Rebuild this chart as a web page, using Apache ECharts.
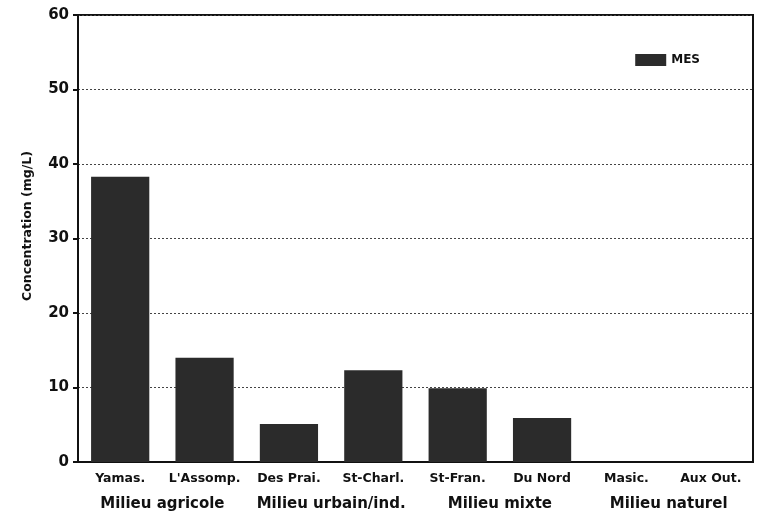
<!DOCTYPE html>
<html>
<head>
<meta charset="utf-8">
<script src="https://cdn.jsdelivr.net/npm/echarts@6/dist/echarts.min.js"></script>
<style>
  html, body { margin: 0; padding: 0; background: #fff; }
  #chart { width: 759px; height: 519px; }
</style>
</head>
<body>
<div id="chart"></div>
<script>
// stations and their MES concentration (mg/L)
const stations = ['Yamas.', "L'Assomp.", 'Des Prai.', 'St-Charl.', 'St-Fran.', 'Du Nord', 'Masic.', 'Aux Out.']
const mesValues = [38.3, 14.0, 5.1, 12.3, 9.9, 5.9, 0, 0]
const milieux = ['Milieu agricole', 'Milieu urbain/ind.', 'Milieu mixte', 'Milieu naturel']
const yTicks = [0, 10, 20, 30, 40, 50, 60]

const font = 'DejaVu Sans'
const chart = echarts.init(document.getElementById('chart'))

const option = {
  animation: false,
  textStyle: { fontFamily: font },
  grid: {
    left: 78, right: 6, top: 15, bottom: 57,
    show: true, borderColor: '#111', borderWidth: 2
  },
  legend: {
    data: [{ name: 'MES', icon: 'rect' }],
    right: 54, top: 49,
    itemWidth: 31, itemHeight: 12,
    itemGap: 4,
    textStyle: { fontFamily: font, fontWeight: 'bold', fontSize: 12, color: '#111', padding: [0, 0, 0, 0] }
  },
  xAxis: [
    {
      type: 'category',
      data: stations,
      position: 'bottom',
      axisLine: { lineStyle: { color: '#111', width: 2 } },
      axisTick: { show: false },
      axisLabel: { interval: 0, margin: 10, color: '#111', fontWeight: 'bold', fontSize: 12.5, fontFamily: font }
    },
    {
      type: 'category',
      data: milieux,
      position: 'bottom',
      offset: 27,
      axisLine: { show: false },
      axisTick: { show: false },
      axisLabel: { interval: 0, margin: 8, color: '#111', fontWeight: 'bold', fontSize: 15, fontFamily: font }
    }
  ],
  yAxis: {
    type: 'value',
    min: yTicks[0],
    max: yTicks[yTicks.length - 1],
    interval: 10,
    name: 'Concentration (mg/L)',
    nameLocation: 'middle',
    nameGap: 44,
    nameTextStyle: { color: '#111', fontWeight: 'bold', fontSize: 12.5, fontFamily: font, padding: [0, 0, 0, 25] },
    axisLine: { show: true, lineStyle: { color: '#111', width: 2 } },
    axisTick: { show: true, length: 5, lineStyle: { color: '#111', width: 2 } },
    axisLabel: { color: '#111', fontWeight: 'bold', fontSize: 15, margin: 9, fontFamily: font },
    splitLine: { lineStyle: { color: '#444', type: [2, 2], width: 1 } }
  },
  series: [
    {
      name: 'MES',
      type: 'bar',
      xAxisIndex: 0,
      data: mesValues,
      barWidth: '69%',
      itemStyle: { color: '#2b2b2b' }
    }
  ]
}

chart.setOption(option)
</script>
</body>
</html>
